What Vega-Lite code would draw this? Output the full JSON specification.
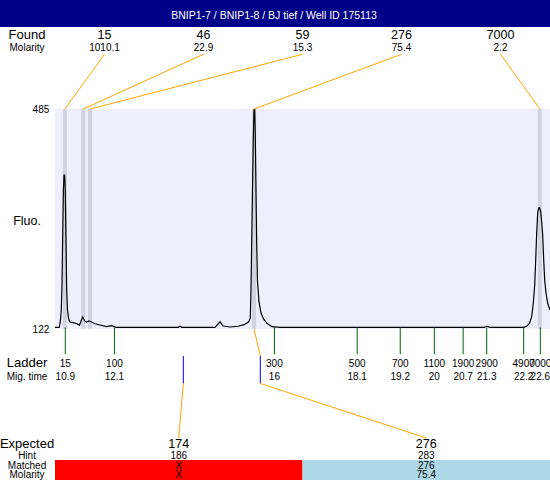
{
  "$schema": "https://vega.github.io/schema/vega-lite/v6.json",
  "width": 550,
  "height": 480,
  "autosize": {"type": "none"},
  "padding": 0,
  "background": "white",
  "config": {"view": {"stroke": null}, "text": {"font": "Liberation Sans", "color": "black"}},
  "datasets": {
    "found": [
      {"slot": 1, "size": "15", "molarity": "1010.1", "t": 10.89},
      {"slot": 2, "size": "46", "molarity": "22.9", "t": 11.34},
      {"slot": 3, "size": "59", "molarity": "15.3", "t": 11.51},
      {"slot": 4, "size": "276", "molarity": "75.4", "t": 15.55},
      {"slot": 5, "size": "7000", "molarity": "2.2", "t": 22.59}
    ],
    "ladder": [
      {"size": "15", "mig": "10.9", "t": 10.9},
      {"size": "100", "mig": "12.1", "t": 12.11},
      {"size": "300", "mig": "16", "t": 16.05},
      {"size": "500", "mig": "18.1", "t": 18.09},
      {"size": "700", "mig": "19.2", "t": 19.15},
      {"size": "1100", "mig": "20", "t": 19.99},
      {"size": "1900", "mig": "20.7", "t": 20.70},
      {"size": "2900", "mig": "21.3", "t": 21.28},
      {"size": "4900", "mig": "22.2", "t": 22.19},
      {"size": "7000", "mig": "22.6", "t": 22.6}
    ],
    "expected": [
      {"slot": 1, "size": "174", "hint": "186", "matched": "X", "molarity": "X", "t": 13.807, "status": "missing"},
      {"slot": 2, "size": "276", "hint": "283", "matched": "276", "molarity": "75.4", "t": 15.703, "peakT": 15.55, "status": "matched"}
    ],
    "trace": [
      {"t": 10.646, "f": 124.8}, {"t": 10.752, "f": 124.8}, {"t": 10.777, "f": 133.6}, {"t": 10.801, "f": 153.4},
      {"t": 10.819, "f": 194.6}, {"t": 10.836, "f": 277.1}, {"t": 10.853, "f": 351.4}, {"t": 10.868, "f": 376.1},
      {"t": 10.885, "f": 376.1}, {"t": 10.900, "f": 348.0}, {"t": 10.917, "f": 268.9}, {"t": 10.934, "f": 186.4},
      {"t": 10.954, "f": 153.4}, {"t": 10.979, "f": 140.2}, {"t": 11.003, "f": 134.0}, {"t": 11.090, "f": 132.4},
      {"t": 11.188, "f": 130.7}, {"t": 11.250, "f": 128.1}, {"t": 11.287, "f": 135.2}, {"t": 11.329, "f": 141.8},
      {"t": 11.373, "f": 135.7}, {"t": 11.422, "f": 133.6}, {"t": 11.476, "f": 135.2}, {"t": 11.533, "f": 134.0},
      {"t": 11.632, "f": 130.7}, {"t": 11.755, "f": 128.6}, {"t": 11.920, "f": 125.8}, {"t": 12.043, "f": 127.4},
      {"t": 12.149, "f": 124.8}, {"t": 13.676, "f": 124.8}, {"t": 13.725, "f": 126.5}, {"t": 13.775, "f": 124.8},
      {"t": 14.587, "f": 124.8}, {"t": 14.711, "f": 134.0}, {"t": 14.785, "f": 127.0}, {"t": 14.957, "f": 125.3},
      {"t": 15.154, "f": 126.5}, {"t": 15.302, "f": 129.1}, {"t": 15.413, "f": 133.6}, {"t": 15.457, "f": 140.2},
      {"t": 15.474, "f": 186.4}, {"t": 15.491, "f": 263.9}, {"t": 15.511, "f": 351.4}, {"t": 15.530, "f": 433.9},
      {"t": 15.548, "f": 484.0}, {"t": 15.565, "f": 484.0}, {"t": 15.580, "f": 442.1}, {"t": 15.597, "f": 351.4},
      {"t": 15.614, "f": 263.9}, {"t": 15.634, "f": 199.6}, {"t": 15.671, "f": 166.6}, {"t": 15.720, "f": 148.4},
      {"t": 15.782, "f": 138.5}, {"t": 15.868, "f": 131.4}, {"t": 15.991, "f": 125.8}, {"t": 16.188, "f": 124.8},
      {"t": 21.213, "f": 124.8}, {"t": 21.287, "f": 126.5}, {"t": 21.361, "f": 124.8}, {"t": 22.198, "f": 124.8},
      {"t": 22.272, "f": 127.0}, {"t": 22.334, "f": 131.4}, {"t": 22.388, "f": 142.3}, {"t": 22.428, "f": 164.9},
      {"t": 22.462, "f": 194.6}, {"t": 22.487, "f": 235.9}, {"t": 22.511, "f": 280.4}, {"t": 22.536, "f": 313.4},
      {"t": 22.561, "f": 321.7}, {"t": 22.585, "f": 321.7}, {"t": 22.610, "f": 315.5}, {"t": 22.634, "f": 298.6},
      {"t": 22.659, "f": 277.1}, {"t": 22.684, "f": 235.9}, {"t": 22.708, "f": 202.9}, {"t": 22.740, "f": 181.4},
      {"t": 22.782, "f": 164.4}, {"t": 22.839, "f": 153.3}
    ]
  },
  "layer": [
    {
      "data": {"values": [{}]},
      "mark": {"type": "rect", "color": "#000088"},
      "encoding": {
        "x": {"datum": 9.2, "type": "quantitative", "scale": {"domain": [10.9, 22.6], "range": [65.3, 540.3], "zero": false, "nice": false}, "axis": null},
        "x2": {"datum": 22.9},
        "y": {"datum": 664.85, "type": "quantitative", "scale": {"domain": [122, 485], "range": [329, 109], "zero": false, "nice": false}, "axis": null},
        "y2": {"datum": 620.3}
      }
    },
    {
      "data": {"values": [{"title": "BNIP1-7 / BNIP1-8 / BJ tief / Well ID 175113"}]},
      "mark": {"type": "text", "color": "white", "fontSize": 10.5, "align": "center", "baseline": "alphabetic"},
      "encoding": {
        "text": {"field": "title"},
        "x": {"datum": 16.041, "type": "quantitative", "axis": null},
        "y": {"datum": 634.3, "type": "quantitative", "axis": null}
      }
    },
    {
      "data": {"values": [{}]},
      "mark": {"type": "rect", "color": "#EEEEFC"},
      "encoding": {
        "x": {"datum": 10.6463, "type": "quantitative", "axis": null},
        "x2": {"datum": 22.9},
        "y": {"datum": 122, "type": "quantitative", "axis": null},
        "y2": {"datum": 485}
      }
    },
    {
      "data": {"name": "found"},
      "mark": {"type": "rule", "color": "#D2D2E0", "strokeWidth": 4},
      "encoding": {
        "x": {"field": "t", "type": "quantitative", "axis": null},
        "y": {"datum": 122, "type": "quantitative", "axis": null},
        "y2": {"datum": 485}
      }
    },
    {
      "data": {"name": "trace"},
      "mark": {"type": "line", "color": "black", "strokeWidth": 1.2},
      "encoding": {
        "x": {"field": "t", "type": "quantitative", "axis": null},
        "y": {"field": "f", "type": "quantitative", "axis": null}
      }
    },
    {
      "data": {"name": "found"},
      "transform": [{"calculate": "10.6463 + (datum.slot - 0.5) * 2.43852", "as": "labelT"}],
      "mark": {"type": "rule", "color": "orange", "strokeWidth": 1},
      "encoding": {
        "x": {"field": "labelT", "type": "quantitative", "axis": null},
        "x2": {"field": "t"},
        "y": {"datum": 575.3, "type": "quantitative", "axis": null},
        "y2": {"datum": 485}
      }
    },
    {
      "data": {"name": "found"},
      "transform": [{"calculate": "10.6463 + (datum.slot - 0.5) * 2.43852", "as": "labelT"}],
      "mark": {"type": "text", "fontSize": 12.5, "align": "center", "baseline": "alphabetic"},
      "encoding": {
        "text": {"field": "size"},
        "x": {"field": "labelT", "type": "quantitative", "axis": null},
        "y": {"datum": 600, "type": "quantitative", "axis": null}
      }
    },
    {
      "data": {"name": "found"},
      "transform": [{"calculate": "10.6463 + (datum.slot - 0.5) * 2.43852", "as": "labelT"}],
      "mark": {"type": "text", "fontSize": 10, "align": "center", "baseline": "alphabetic"},
      "encoding": {
        "text": {"field": "molarity"},
        "x": {"field": "labelT", "type": "quantitative", "axis": null},
        "y": {"datum": 581.2, "type": "quantitative", "axis": null}
      }
    },
    {
      "data": {"values": [{}]},
      "mark": {"type": "text", "text": "Found", "fontSize": 13, "align": "center", "baseline": "alphabetic"},
      "encoding": {"x": {"datum": 9.957, "type": "quantitative", "axis": null}, "y": {"datum": 600, "type": "quantitative", "axis": null}}
    },
    {
      "data": {"values": [{}]},
      "mark": {"type": "text", "text": "Molarity", "fontSize": 10, "align": "center", "baseline": "alphabetic"},
      "encoding": {"x": {"datum": 9.957, "type": "quantitative", "axis": null}, "y": {"datum": 581.2, "type": "quantitative", "axis": null}}
    },
    {
      "data": {"values": [{}]},
      "mark": {"type": "text", "text": "Fluo.", "fontSize": 12.5, "align": "center", "baseline": "alphabetic"},
      "encoding": {"x": {"datum": 9.957, "type": "quantitative", "axis": null}, "y": {"datum": 294.4, "type": "quantitative", "axis": null}}
    },
    {
      "data": {"values": [{"v": 485}, {"v": 122}]},
      "mark": {"type": "text", "fontSize": 10, "align": "right", "baseline": "middle", "dy": 1},
      "encoding": {
        "text": {"field": "v"},
        "x": {"datum": 10.506, "type": "quantitative", "axis": null},
        "y": {"field": "v", "type": "quantitative", "axis": null}
      }
    },
    {
      "data": {"name": "ladder"},
      "mark": {"type": "rule", "color": "#006400", "strokeWidth": 1},
      "encoding": {
        "x": {"field": "t", "type": "quantitative", "axis": null},
        "y": {"datum": 124.5, "type": "quantitative", "axis": null},
        "y2": {"datum": 80.3}
      }
    },
    {
      "data": {"name": "ladder"},
      "mark": {"type": "text", "fontSize": 10, "align": "center", "baseline": "alphabetic"},
      "encoding": {
        "text": {"field": "size"},
        "x": {"field": "t", "type": "quantitative", "axis": null},
        "y": {"datum": 59, "type": "quantitative", "axis": null}
      }
    },
    {
      "data": {"name": "ladder"},
      "mark": {"type": "text", "fontSize": 10, "align": "center", "baseline": "alphabetic"},
      "encoding": {
        "text": {"field": "mig"},
        "x": {"field": "t", "type": "quantitative", "axis": null},
        "y": {"datum": 37.85, "type": "quantitative", "axis": null}
      }
    },
    {
      "data": {"values": [{}]},
      "mark": {"type": "text", "text": "Ladder", "fontSize": 13, "align": "center", "baseline": "alphabetic"},
      "encoding": {"x": {"datum": 9.957, "type": "quantitative", "axis": null}, "y": {"datum": 58.5, "type": "quantitative", "axis": null}}
    },
    {
      "data": {"values": [{}]},
      "mark": {"type": "text", "text": "Mig. time", "fontSize": 10, "align": "center", "baseline": "alphabetic"},
      "encoding": {"x": {"datum": 9.957, "type": "quantitative", "axis": null}, "y": {"datum": 37.85, "type": "quantitative", "axis": null}}
    },
    {
      "data": {"name": "expected"},
      "mark": {"type": "rule", "color": "#0000FF", "strokeWidth": 1},
      "encoding": {
        "x": {"field": "t", "type": "quantitative", "axis": null},
        "y": {"datum": 77.45, "type": "quantitative", "axis": null},
        "y2": {"datum": 32.1}
      }
    },
    {
      "data": {"name": "expected"},
      "transform": [{"calculate": "10.6463 + (datum.slot - 0.5) * 6.0963", "as": "labelT"}],
      "mark": {"type": "rule", "color": "orange", "strokeWidth": 1},
      "encoding": {
        "x": {"field": "t", "type": "quantitative", "axis": null},
        "x2": {"field": "labelT"},
        "y": {"datum": 32.1, "type": "quantitative", "axis": null},
        "y2": {"datum": -57.8}
      }
    },
    {
      "data": {"name": "expected"},
      "transform": [{"filter": "isValid(datum.peakT)"}],
      "mark": {"type": "rule", "color": "orange", "strokeWidth": 1},
      "encoding": {
        "x": {"field": "peakT", "type": "quantitative", "axis": null},
        "x2": {"field": "t"},
        "y": {"datum": 122, "type": "quantitative", "axis": null},
        "y2": {"datum": 77.45}
      }
    },
    {
      "data": {"name": "expected"},
      "transform": [
        {"calculate": "10.6463 + (datum.slot - 1) * 6.0963", "as": "x0"},
        {"calculate": "10.6463 + datum.slot * 6.0963", "as": "x1"}
      ],
      "mark": {"type": "rect"},
      "encoding": {
        "x": {"field": "x0", "type": "quantitative", "axis": null},
        "x2": {"field": "x1"},
        "y": {"datum": -94.15, "type": "quantitative", "axis": null},
        "y2": {"datum": -135},
        "color": {"field": "status", "type": "nominal", "scale": {"domain": ["missing", "matched"], "range": ["#FF0000", "#ADD8E6"]}, "legend": null}
      }
    },
    {
      "data": {"name": "expected"},
      "transform": [{"calculate": "10.6463 + (datum.slot - 0.5) * 6.0963", "as": "labelT"}],
      "mark": {"type": "text", "fontSize": 12.5, "align": "center", "baseline": "alphabetic"},
      "encoding": {
        "text": {"field": "size"},
        "x": {"field": "labelT", "type": "quantitative", "axis": null},
        "y": {"datum": -74.8, "type": "quantitative", "axis": null}
      }
    },
    {
      "data": {"name": "expected"},
      "transform": [{"calculate": "10.6463 + (datum.slot - 0.5) * 6.0963", "as": "labelT"}],
      "mark": {"type": "text", "fontSize": 10, "align": "center", "baseline": "alphabetic"},
      "encoding": {
        "text": {"field": "hint"},
        "x": {"field": "labelT", "type": "quantitative", "axis": null},
        "y": {"datum": -92.5, "type": "quantitative", "axis": null}
      }
    },
    {
      "data": {"name": "expected"},
      "transform": [{"calculate": "10.6463 + (datum.slot - 0.5) * 6.0963", "as": "labelT"}],
      "mark": {"type": "text", "fontSize": 10, "align": "center", "baseline": "alphabetic"},
      "encoding": {
        "text": {"field": "matched"},
        "x": {"field": "labelT", "type": "quantitative", "axis": null},
        "y": {"datum": -109, "type": "quantitative", "axis": null}
      }
    },
    {
      "data": {"name": "expected"},
      "transform": [{"calculate": "10.6463 + (datum.slot - 0.5) * 6.0963", "as": "labelT"}],
      "mark": {"type": "text", "fontSize": 10, "align": "center", "baseline": "alphabetic"},
      "encoding": {
        "text": {"field": "molarity"},
        "x": {"field": "labelT", "type": "quantitative", "axis": null},
        "y": {"datum": -124.3, "type": "quantitative", "axis": null}
      }
    },
    {
      "data": {"values": [{}]},
      "mark": {"type": "text", "text": "Expected", "fontSize": 13, "align": "center", "baseline": "alphabetic"},
      "encoding": {"x": {"datum": 9.957, "type": "quantitative", "axis": null}, "y": {"datum": -74.8, "type": "quantitative", "axis": null}}
    },
    {
      "data": {"values": [{}]},
      "mark": {"type": "text", "text": "Hint", "fontSize": 10, "align": "center", "baseline": "alphabetic"},
      "encoding": {"x": {"datum": 9.957, "type": "quantitative", "axis": null}, "y": {"datum": -92.5, "type": "quantitative", "axis": null}}
    },
    {
      "data": {"values": [{}]},
      "mark": {"type": "text", "text": "Matched", "fontSize": 10, "align": "center", "baseline": "alphabetic"},
      "encoding": {"x": {"datum": 9.957, "type": "quantitative", "axis": null}, "y": {"datum": -109, "type": "quantitative", "axis": null}}
    },
    {
      "data": {"values": [{}]},
      "mark": {"type": "text", "text": "Molarity", "fontSize": 10, "align": "center", "baseline": "alphabetic"},
      "encoding": {"x": {"datum": 9.957, "type": "quantitative", "axis": null}, "y": {"datum": -124.3, "type": "quantitative", "axis": null}}
    }
  ]
}
